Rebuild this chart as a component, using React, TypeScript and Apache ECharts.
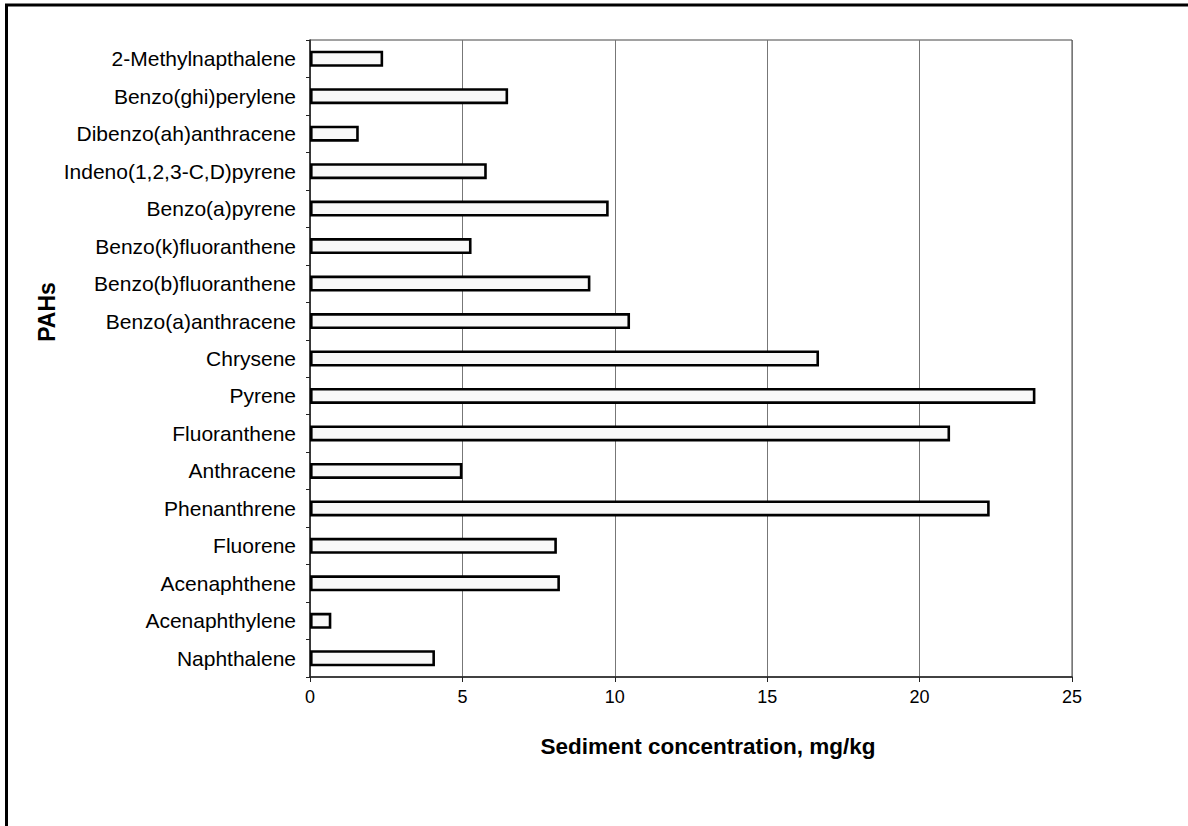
import React, { useEffect, useRef } from "react";
import * as echarts from "echarts";

const categories: string[] = [
  "2-Methylnapthalene",
  "Benzo(ghi)perylene",
  "Dibenzo(ah)anthracene",
  "Indeno(1,2,3-C,D)pyrene",
  "Benzo(a)pyrene",
  "Benzo(k)fluoranthene",
  "Benzo(b)fluoranthene",
  "Benzo(a)anthracene",
  "Chrysene",
  "Pyrene",
  "Fluoranthene",
  "Anthracene",
  "Phenanthrene",
  "Fluorene",
  "Acenaphthene",
  "Acenaphthylene",
  "Naphthalene",
];

const concentrations: number[] = [
  2.4, 6.5, 1.6, 5.8, 9.8, 5.3, 9.2, 10.5, 16.7, 23.8, 21.0, 5.0, 22.3, 8.1, 8.2, 0.7, 4.1,
];

const xTicks = { min: 0, max: 25, interval: 5 };
const xTitle = "Sediment concentration, mg/kg";
const yTitle = "PAHs";

export default function App() {
  const ref = useRef<HTMLDivElement>(null);
  useEffect(() => {
    document.body.style.margin = "0";
    const chart = echarts.init(ref.current!, null, { renderer: "svg" });
    const font = "'Liberation Sans', Arial, sans-serif";
    chart.setOption({
      animation: false,
      backgroundColor: "#ffffff",
      textStyle: { fontFamily: font },
      grid: {
        left: 310,
        top: 40,
        width: 762,
        height: 637,
        show: true,
        borderColor: "#444",
        borderWidth: 1,
        backgroundColor: "transparent",
      },
      xAxis: {
        type: "value",
        min: xTicks.min,
        max: xTicks.max,
        interval: xTicks.interval,
        axisLine: { show: true, onZero: false, lineStyle: { color: "#222", width: 1.5 } },
        axisTick: { show: true, length: 5, lineStyle: { color: "#222" } },
        axisLabel: { color: "#000", fontSize: 18, margin: 11, fontFamily: font },
        splitLine: { show: true, lineStyle: { color: "#777", width: 1 } },
      },
      yAxis: {
        type: "category",
        data: categories,
        inverse: true,
        axisLine: { show: true, lineStyle: { color: "#222", width: 1.5 } },
        axisTick: { show: true, length: 4, lineStyle: { color: "#222" } },
        axisLabel: { color: "#000", fontSize: 21, margin: 14, fontFamily: font },
        splitLine: { show: false },
      },
      series: [
        {
          type: "bar",
          data: concentrations,
          barWidth: 16,
          itemStyle: { color: "#f8f8f8", borderColor: "#000", borderWidth: 2.6 },
        },
      ],
      graphic: [
        {
          type: "line",
          shape: { x1: 5, y1: 5, x2: 1188, y2: 5 },
          style: { stroke: "#000", lineWidth: 3 },
        },
        {
          type: "line",
          shape: { x1: 6.5, y1: 5, x2: 6.5, y2: 826 },
          style: { stroke: "#000", lineWidth: 3 },
        },
        {
          type: "text",
          x: 47,
          y: 312,
          rotation: Math.PI / 2,
          style: {
            text: yTitle,
            font: `bold 23px ${font}`,
            fill: "#000",
            textAlign: "center",
            textVerticalAlign: "middle",
          },
        },
        {
          type: "text",
          x: 708,
          y: 746,
          style: {
            text: xTitle,
            font: `bold 22.5px ${font}`,
            fill: "#000",
            textAlign: "center",
            textVerticalAlign: "middle",
          },
        },
      ],
    });
    return () => chart.dispose();
  }, []);
  return (
    <div
      ref={ref}
      style={{ position: "absolute", left: 0, top: 0, width: 1188, height: 826 }}
    />
  );
}
